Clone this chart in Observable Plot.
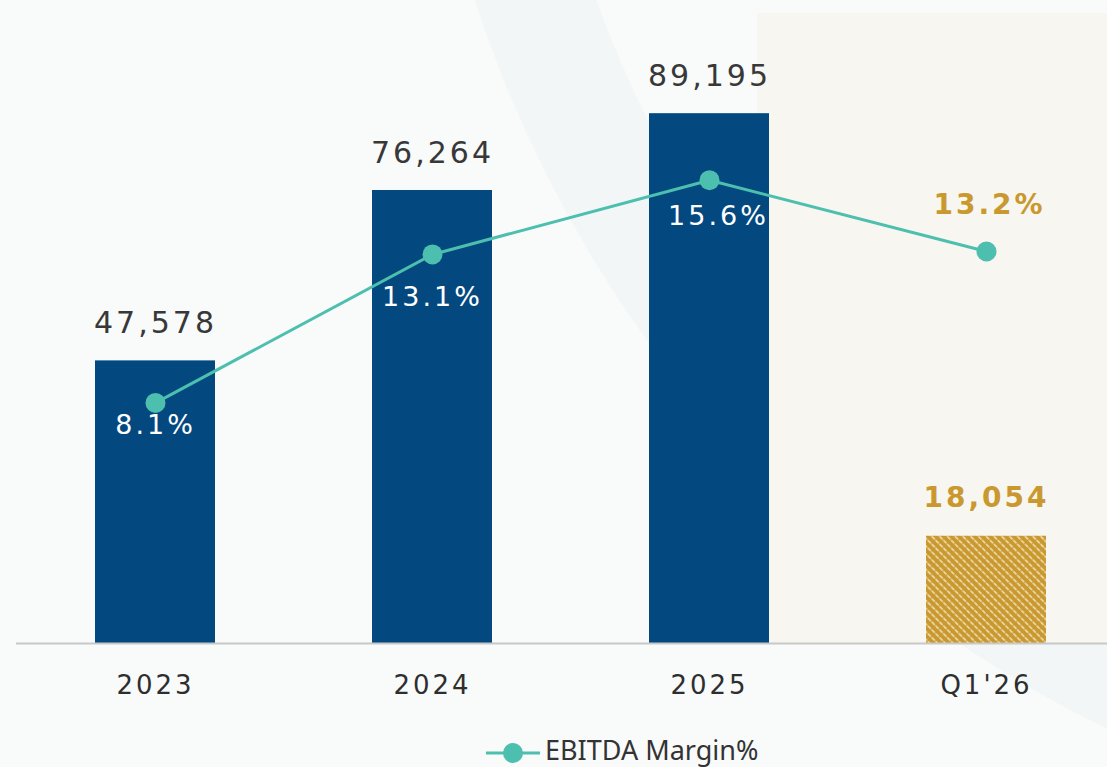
<!DOCTYPE html>
<html>
<head>
<meta charset="utf-8">
<script src="https://cdn.jsdelivr.net/npm/d3@7"></script>
<script src="https://cdn.jsdelivr.net/npm/@observablehq/plot@0.6"></script>
<style>
  html, body { margin: 0; padding: 0; background: #f9fafa; }
  #wrap { position: relative; width: 1107px; height: 767px; overflow: hidden; background: #f9fafa; }
  #bg { position: absolute; left: 0; top: 0; }
  #chart { position: absolute; left: 0; top: 0; }
  #chart text { letter-spacing: 3px; }
  #legend-key { position: absolute; left: 486px; top: 741px; }
  #legend-text { position: absolute; left: 545px; top: 734px; height: 32px; line-height: 32px; white-space: nowrap;
            font-family: "Noto Sans", sans-serif; font-size: 27px; color: #333; }
</style>
</head>
<body>
<div id="wrap">
  <svg id="bg" width="1107" height="767">
    <circle cx="1650" cy="-381" r="1178" fill="none" stroke="#f3f6f6" stroke-width="115"></circle>
    <rect x="757" y="13" width="350" height="630" fill="#f7f6f0"></rect>
  </svg>
  <div id="chart"></div>
  <svg id="legend-key" width="56" height="24"><line x1="0" y1="12" x2="54" y2="12" stroke="#4cbfae" stroke-width="3"></line><circle cx="27" cy="12" r="10" fill="#4cbfae"></circle></svg>
  <div id="legend-text">EBITDA Margin%</div>
</div>
<script>
// ---- data ----
const periods = ["2023", "2024", "2025", "Q1'26"];
const ebitda = [47578, 76264, 89195, 18054];
const marginPct = [8.1, 13.1, 15.6, 13.2];
const isQuarter = [false, false, false, true];

// ---- scales / layout ----
const yMax = 100000;          // primary axis max (EBITDA)
const marginAxisMax = 20;     // secondary axis max (%), mapped onto the same range
const toY = m => m / marginAxisMax * yMax;

const rows = periods.map((p, i) => ({period: p, value: ebitda[i], margin: marginPct[i], quarter: isQuarter[i]}));
const annual = rows.filter(d => !d.quarter);
const quarter = rows.filter(d => d.quarter);

// label offsets relative to the margin dots (layout only)
const marginLabelOffset = {"2023": [0, 22], "2024": [0, 43], "2025": [9, 36], "Q1'26": [3, -46]};

const blue = "#03487f", teal = "#4cbfae", gold = "#c9992f", dark = "#383838";
const numFont = "'DejaVu Sans', sans-serif";

const marks = [
  Plot.barY(annual, {x: "period", y: "value", fill: blue}),
  Plot.barY(quarter, {x: "period", y: "value", fill: "url(#hatch)"}),
  Plot.ruleY([0], {stroke: "#c8c8c8", strokeWidth: 2}),
  Plot.line(rows, {x: "period", y: d => toY(d.margin), stroke: teal, strokeWidth: 3}),
  Plot.dot(rows, {x: "period", y: d => toY(d.margin), r: 10, fill: teal}),
  // value labels
  Plot.text(annual, {x: "period", y: "value", text: d => d3.format(",")(d.value), dy: -37,
    fontSize: 30, fill: dark, fontFamily: numFont}),
  Plot.text(quarter, {x: "period", y: "value", text: d => d3.format(",")(d.value), dy: -38,
    fontSize: 28, fontWeight: "bold", fill: gold, fontFamily: numFont}),
  // x tick labels
  Plot.text(periods, {x: d => d, frameAnchor: "bottom", dy: 50, fontSize: 26, fill: "#2e2e2e",
    fontFamily: numFont})
];
for (const d of rows) {
  const [dx, dy] = marginLabelOffset[d.period];
  marks.push(Plot.text([d], {x: "period", y: r => toY(r.margin), text: r => r.margin.toFixed(1) + "%",
    dx, dy, fontFamily: numFont,
    fontSize: d.quarter ? 28 : 27, fontWeight: d.quarter ? "bold" : "normal",
    fill: d.quarter ? gold : "#ffffff"}));
}

const chart = Plot.plot({
  width: 1107,
  height: 720,
  marginTop: 49,
  marginBottom: 77,
  marginLeft: 16,
  marginRight: 0,
  style: {background: "transparent", overflow: "visible"},
  x: {domain: periods, paddingInner: 0.5668, paddingOuter: 0.2527, align: 0.564, axis: null},
  y: {domain: [0, yMax], axis: null},
  marks
});

// hatch pattern for the quarter bar
const ns = "http://www.w3.org/2000/svg";
const defs = document.createElementNS(ns, "defs");
defs.innerHTML = `<pattern id="hatch" patternUnits="userSpaceOnUse" width="5.5" height="5.5" patternTransform="rotate(45)">
  <rect width="5.5" height="5.5" fill="${gold}"></rect>
  <line x1="0" y1="1" x2="5.5" y2="1" stroke="#f5e7c4" stroke-width="1.4" stroke-dasharray="3 1"></line>
</pattern>`;
chart.insertBefore(defs, chart.firstChild);

document.getElementById("chart").appendChild(chart);
</script>
</body>
</html>
